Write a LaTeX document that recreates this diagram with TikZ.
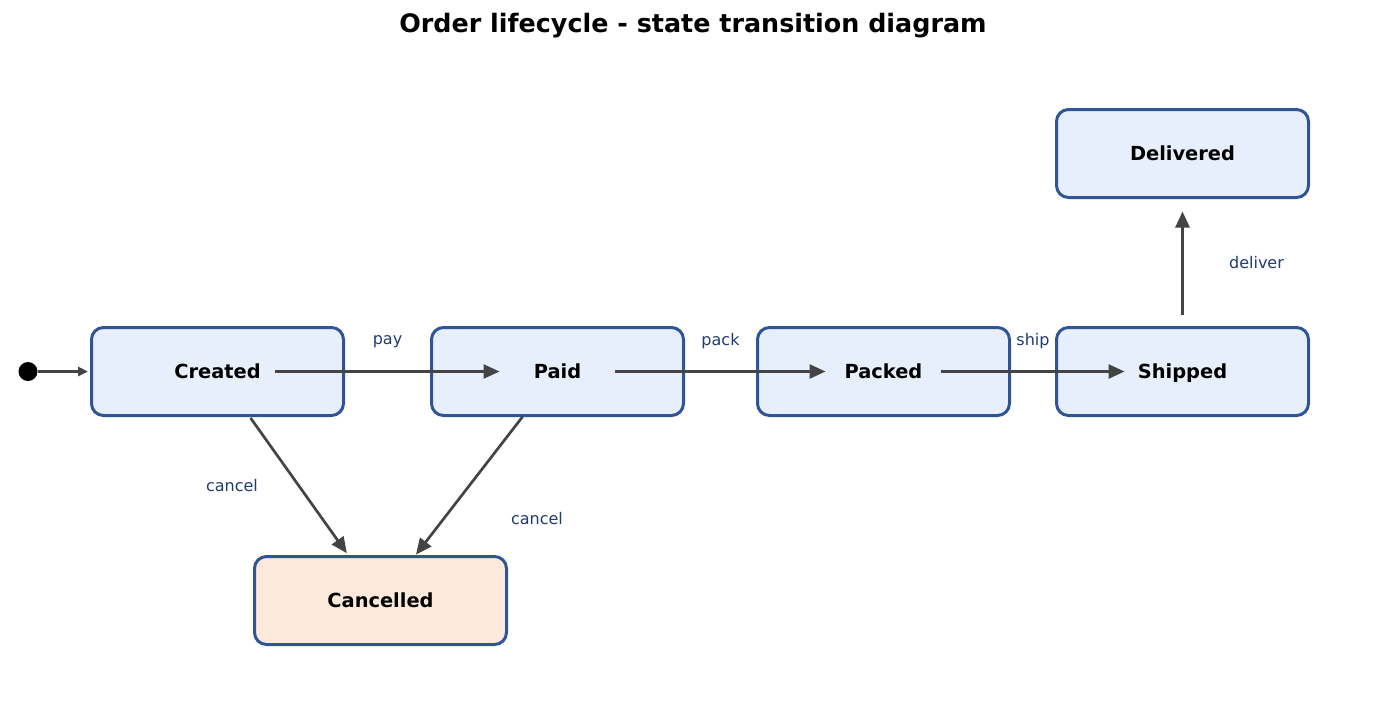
\documentclass[tikz,border=0pt]{standalone}
\usepackage{fontspec}
\setmainfont{DejaVu Sans}
\usepackage{tikz}
\usetikzlibrary{arrows.meta,positioning}
\definecolor{stateline}{HTML}{2F5597}
\definecolor{statefill}{HTML}{E8EFFC}
\definecolor{cancelfill}{HTML}{FCE9DC}
\definecolor{arrowgray}{HTML}{444444}
\definecolor{labelblue}{HTML}{1F3B70}

\begin{document}
\begin{tikzpicture}[
  x=1pt, y=-1pt,
  state/.style={draw=stateline, line width=3pt, rounded corners=12pt, fill=statefill,
    minimum width=252pt, minimum height=88pt, text height=14pt, text depth=0pt,
    font=\fontsize{19.4}{23}\selectfont\bfseries},
  trans/.style={-{Triangle[length=16pt, width=14pt]}, draw=arrowgray, line width=2.7pt,
    shorten <=57pt, shorten >=58pt},
  initarrow/.style={-{Triangle[length=10pt, width=9pt]}, draw=arrowgray, line width=2.7pt,
    shorten >=2pt},
  lbl/.style={text=labelblue, font=\fontsize{16}{19}\selectfont},
]
  \useasboundingbox (0,0) rectangle (1385,713);

  \node[font=\fontsize{25.4}{30}\selectfont\bfseries] (title) at (693,26)
    {Order lifecycle - state transition diagram};

  \node[circle, fill=black, inner sep=0pt, minimum size=19pt] (init) at (28,371.5) {};

  \node[state] (created) at (217.5,371.5) {Created};
  \node[state, right=85pt of created] (paid) {Paid};
  \node[state, right=71pt of paid] (packed) {Packed};
  \node[state, right=44pt of packed] (shipped) {Shipped};
  \node[state, above=127pt of shipped] (delivered) {Delivered};
  \node[state, fill=cancelfill] (cancelled) at (380.5,600.5) {Cancelled};

  \draw[initarrow] (init) -- (created.west);
  \draw[trans] (created.center) -- node[lbl, midway, yshift=30pt] {pay} (paid.center);
  \draw[trans] (paid.center) -- node[lbl, midway, yshift=30pt] {pack} (packed.center);
  \draw[trans] (packed.center) -- node[lbl, midway, yshift=30pt] {ship} (shipped.center);
  \draw[trans] (shipped.center) -- node[lbl, midway, xshift=74pt] {deliver} (delivered.center);
  \draw[trans] (created.center) -- node[lbl, midway, xshift=-67pt] {cancel} (cancelled.center);
  \draw[trans] (paid.center) -- node[lbl, midway, xshift=68pt, yshift=-33pt] {cancel} (cancelled.center);
\end{tikzpicture}
\end{document}
